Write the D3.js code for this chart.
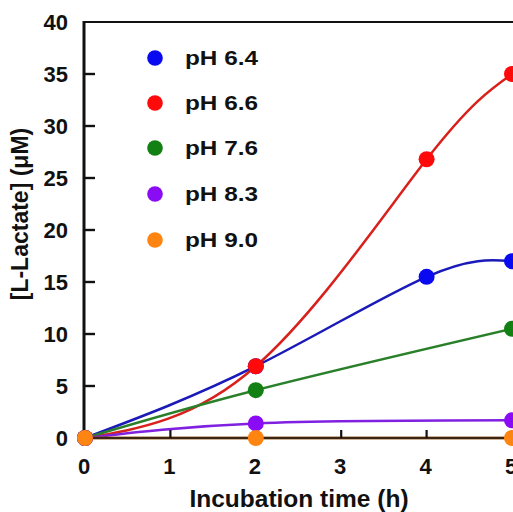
<!DOCTYPE html>
<html>
<head>
<meta charset="utf-8">
<script src="https://cdn.jsdelivr.net/npm/d3@7"></script>
<style>
  html, body { margin: 0; padding: 0; background: #ffffff; }
  svg { display: block; }
  text { font-family: "Liberation Sans", Arial, Helvetica, sans-serif; font-weight: bold; fill: #111; }
</style>
</head>
<body>
<svg id="chart" width="513" height="512"></svg>
<script>
// ---- data ----
const seriesNames = ["pH 6.4", "pH 6.6", "pH 7.6", "pH 8.3", "pH 9.0"];
const timesFull = [0, 2, 4, 5];
const timesShort = [0, 2, 5];
const ph64 = [0, 6.9, 15.5, 17.0];
const ph66 = [0, 6.9, 26.8, 35.0];
const ph76 = [0, 4.6, 10.5];
const ph83 = [0, 1.4, 1.7];
const ph90 = [0, 0, 0];
const xTicks = [0, 1, 2, 3, 4, 5];
const yTicks = [0, 5, 10, 15, 20, 25, 30, 35, 40];
const markerColors = ["#0a0af0", "#ff0a0a", "#138013", "#8a0cf5", "#ff8512"];
const lineColors = ["#1a1ab8", "#d8201c", "#2a802a", "#8020e0", "#ff8512"];

const series = [
  { name: seriesNames[0], x: timesFull, y: ph64 },
  { name: seriesNames[1], x: timesFull, y: ph66 },
  { name: seriesNames[2], x: timesShort, y: ph76 },
  { name: seriesNames[3], x: timesShort, y: ph83 },
  { name: seriesNames[4], x: timesShort, y: ph90 }
];

const svg = d3.select("#chart");
const x = d3.scaleLinear().domain([0, 5]).range([85, 512]);
const y = d3.scaleLinear().domain([0, 40]).range([438, 22]);

// top frame line
svg.append("line").attr("x1", 83).attr("x2", 520).attr("y1", y(40)).attr("y2", y(40))
  .attr("stroke", "#111").attr("stroke-width", 2.2);

// lines
const line = d3.line().x(d => x(d[0])).y(d => y(d[1])).curve(d3.curveNatural);
series.forEach((s, i) => {
  const pts = s.x.map((t, j) => [t, s.y[j]]);
  svg.append("path").attr("d", line(pts)).attr("fill", "none")
    .attr("stroke", lineColors[i]).attr("stroke-width", 2.5);
});

// x axis line (dark, brownish from overlapping orange)
svg.append("line").attr("x1", x(0) - 2).attr("x2", 520).attr("y1", y(0)).attr("y2", y(0))
  .attr("stroke", "#3a2612").attr("stroke-width", 2.6);
// y axis line
svg.append("line").attr("x1", x(0) - 1).attr("x2", x(0) - 1).attr("y1", y(40) - 1).attr("y2", y(0) + 1)
  .attr("stroke", "#111").attr("stroke-width", 3);

// y ticks (inward) and labels
yTicks.forEach(v => {
  if (v > 0 && v < 40) {
    svg.append("line").attr("x1", x(0)).attr("x2", x(0) + 10).attr("y1", y(v)).attr("y2", y(v))
      .attr("stroke", "#111").attr("stroke-width", 2.4);
  }
  svg.append("text").attr("x", 68).attr("y", y(v) + 7.8).attr("text-anchor", "end")
    .attr("font-size", 22).text(v);
});

// x ticks (inward) and labels
xTicks.forEach(v => {
  if (v > 0) {
    svg.append("line").attr("x1", x(v)).attr("x2", x(v)).attr("y1", y(0)).attr("y2", y(0) - 8)
      .attr("stroke", "#111").attr("stroke-width", 2.2);
  }
  svg.append("text").attr("x", x(v) - 1).attr("y", 474).attr("text-anchor", "middle")
    .attr("font-size", 22).text(v);
});

// markers
series.forEach((s, i) => {
  svg.selectAll(null).data(s.x.map((t, j) => [t, s.y[j]])).enter().append("circle")
    .attr("cx", d => x(d[0])).attr("cy", d => y(d[1])).attr("r", 8)
    .attr("fill", markerColors[i]);
});

// legend
const legendY = [58, 103, 148, 194, 240];
series.forEach((s, i) => {
  svg.append("circle").attr("cx", 155).attr("cy", legendY[i]).attr("r", 7.8).attr("fill", markerColors[i]);
  svg.append("text").attr("x", 185).attr("y", legendY[i] + 7).attr("font-size", 19.5)
    .attr("textLength", 73).attr("lengthAdjust", "spacingAndGlyphs").text(s.name);
});

// axis titles
svg.append("text").attr("x", 299).attr("y", 507).attr("text-anchor", "middle")
  .attr("font-size", 24.5).text("Incubation time (h)");
svg.append("text").attr("transform", "translate(28,214) rotate(-90)").attr("text-anchor", "middle")
  .attr("font-size", 23).text("[L-Lactate] (μM)");
</script>
</body>
</html>
